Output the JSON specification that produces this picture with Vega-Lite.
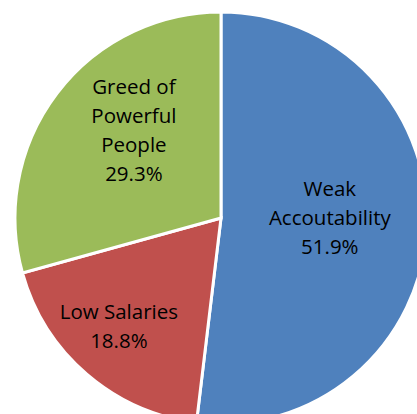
{
  "$schema": "https://vega.github.io/schema/vega-lite/v6.json",
  "width": 392,
  "height": 392,
  "padding": {"left": 25, "top": 22, "right": 0, "bottom": 0},
  "autosize": {"type": "none"},
  "background": "white",
  "view": {"stroke": null},
  "data": {
    "values": [
      {"cause": "Weak Accoutability", "pct": 51.9, "k": 1, "label": "Weak\nAccoutability\n51.9%"},
      {"cause": "Low Salaries", "pct": 18.8, "k": 2, "label": "Low Salaries\n18.8%"},
      {"cause": "Greed of Powerful People", "pct": 29.3, "k": 3, "label": "Greed of\nPowerful\nPeople\n29.3%"}
    ]
  },
  "encoding": {
    "theta": {"field": "pct", "type": "quantitative", "stack": true},
    "order": {"field": "k", "type": "quantitative"}
  },
  "layer": [
    {
      "mark": {"type": "arc", "radius": 206, "stroke": "white", "strokeWidth": 3},
      "encoding": {
        "color": {
          "field": "cause",
          "type": "nominal",
          "scale": {
            "domain": ["Weak Accoutability", "Low Salaries", "Greed of Powerful People"],
            "range": ["#4F81BD", "#C0504D", "#9BBB59"]
          },
          "legend": null
        }
      }
    },
    {
      "mark": {"type": "text", "radius": 109, "dy": -35, "font": "Open Sans", "fontSize": 20.5, "lineBreak": "\n", "lineHeight": 29, "color": "black", "align": "center", "baseline": "middle"},
      "encoding": {"text": {"condition": {"test": "datum.k == 1", "field": "label"}, "value": ""}}
    },
    {
      "mark": {"type": "text", "radius": 149, "dx": -5, "dy": -18, "font": "Open Sans", "fontSize": 20.5, "lineBreak": "\n", "lineHeight": 29, "color": "black", "align": "center", "baseline": "middle"},
      "encoding": {"text": {"condition": {"test": "datum.k == 2", "field": "label"}, "value": ""}}
    },
    {
      "mark": {"type": "text", "radius": 122, "dx": 10, "dy": -56, "font": "Open Sans", "fontSize": 20.5, "lineBreak": "\n", "lineHeight": 29, "color": "black", "align": "center", "baseline": "middle"},
      "encoding": {"text": {"condition": {"test": "datum.k == 3", "field": "label"}, "value": ""}}
    }
  ]
}
